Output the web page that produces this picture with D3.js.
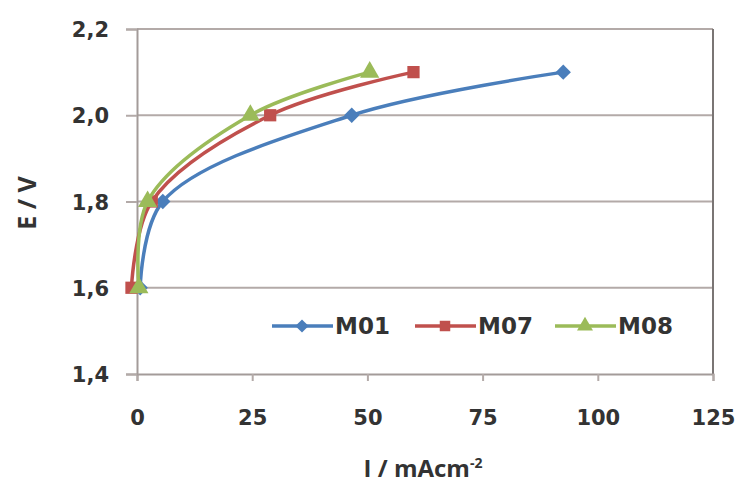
<!DOCTYPE html>
<html>
<head>
<meta charset="utf-8">
<script src="https://cdn.jsdelivr.net/npm/d3@7"></script>
<style>
  body { margin: 0; background: #fff; }
  svg { display: block; }
</style>
</head>
<body>
<script>
'use strict';

// series values (I in mA/cm2, E in V)
const seriesNames = ['M01', 'M07', 'M08'];
const m01Current = [0.7, 5.6, 46.6, 92.5];
const m01Voltage = [1.6, 1.8, 2.0, 2.1];
const m07Current = [-1.2, 3.2, 28.9, 60];
const m07Voltage = [1.6, 1.8, 2.0, 2.1];
const m08Current = [0.4, 2.3, 24.6, 50.5];
const m08Voltage = [1.6, 1.8, 2.0, 2.1];
const xTicks = [0, 25, 50, 75, 100, 125];
const yTicks = [1.4, 1.6, 1.8, 2.0, 2.2];

const width = 741;
const height = 486;
const colors = { M01: '#4a7ebb', M07: '#c0504d', M08: '#9bbb59' };
const symbols = { M01: d3.symbolDiamond2, M07: d3.symbolSquare, M08: d3.symbolTriangle };

// build table from arrays
const series = [
  { name: 'M01', x: m01Current, y: m01Voltage },
  { name: 'M07', x: m07Current, y: m07Voltage },
  { name: 'M08', x: m08Current, y: m08Voltage }
].map(s => ({ name: s.name, points: s.x.map((v, i) => ({ x: v, y: s.y[i] })) }));

const svg = d3.select('body').append('svg')
  .attr('width', width)
  .attr('height', height);

const xScale = d3.scaleLinear().domain([0, 125]).range([137, 713]);
const yScale = d3.scaleLinear().domain([1.4, 2.2]).range([374, 29]);

// gridlines
svg.append('g')
  .selectAll('line')
  .data(yTicks.slice(1))
  .enter()
  .append('line')
  .attr('x1', xScale(0))
  .attr('x2', xScale(125))
  .attr('y1', d => yScale(d))
  .attr('y2', d => yScale(d))
  .attr('stroke', '#b3aaa8')
  .attr('stroke-width', 2);

// right border of plot
svg.append('line')
  .attr('x1', xScale(125)).attr('x2', xScale(125))
  .attr('y1', yScale(2.2)).attr('y2', yScale(1.4))
  .attr('stroke', '#7a7574')
  .attr('stroke-width', 2);

// axes
const xAxis = d3.axisBottom(xScale).tickValues(xTicks).tickSize(7).tickPadding(29);
const gx = svg.append('g')
  .attr('transform', 'translate(0,' + yScale(1.4) + ')')
  .call(xAxis);

const yAxis = d3.axisLeft(yScale).tickValues(yTicks).tickSize(11).tickPadding(17)
  .tickFormat(d => d3.format('.1f')(d).replace('.', ','));
const gy = svg.append('g')
  .attr('transform', 'translate(' + xScale(0) + ',0)')
  .call(yAxis);

[gx, gy].forEach(g => {
  g.select('.domain').attr('stroke', '#a39b99').attr('stroke-width', 2);
  g.selectAll('.tick line').attr('stroke', '#b3aaa8').attr('stroke-width', 2);
  g.selectAll('.tick text')
    .attr('fill', '#333')
    .style('font-family', '"DejaVu Sans", sans-serif')
    .style('font-weight', 'bold')
    .style('font-size', '21px');
});
gy.selectAll('.tick text').attr('dy', '0.36em');

// lines
const line = d3.line()
  .x(d => xScale(d.x))
  .y(d => yScale(d.y))
  .curve(d3.curveCatmullRom.alpha(0.5));

const groups = svg.append('g')
  .selectAll('g')
  .data(series)
  .enter()
  .append('g');

groups.append('path')
  .attr('d', d => line(d.points))
  .attr('fill', 'none')
  .attr('stroke', d => colors[d.name])
  .attr('stroke-width', 3.5);

groups.selectAll('path.marker')
  .data(d => d.points.map(p => ({ name: d.name, x: p.x, y: p.y })))
  .enter()
  .append('path')
  .attr('class', 'marker')
  .attr('transform', d => 'translate(' + xScale(d.x) + ',' + yScale(d.y) + ')')
  .attr('d', d => d3.symbol().type(symbols[d.name]).size(d.name === 'M08' ? 160 : 150)())
  .attr('fill', d => colors[d.name]);

// legend
const legendX = [272, 415, 555];
const legend = svg.append('g')
  .selectAll('g')
  .data(seriesNames)
  .enter()
  .append('g')
  .attr('transform', (d, i) => 'translate(' + legendX[i] + ',326)');

legend.append('line')
  .attr('x1', 0).attr('x2', 61)
  .attr('stroke', d => colors[d])
  .attr('stroke-width', 3.5);

legend.append('path')
  .attr('transform', 'translate(30,0)')
  .attr('d', d => d3.symbol().type(symbols[d]).size(110)())
  .attr('fill', d => colors[d]);

legend.append('text')
  .attr('x', 63)
  .attr('dy', '0.36em')
  .attr('fill', '#333')
  .style('font-family', '"DejaVu Sans", sans-serif')
  .style('font-weight', 'bold')
  .style('font-size', '23px')
  .text(d => d);

// axis titles
svg.append('text')
  .attr('transform', 'translate(36,203)rotate(-90)')
  .attr('text-anchor', 'middle')
  .attr('fill', '#333')
  .style('font-family', '"Open Sans", sans-serif')
  .style('font-weight', 'bold')
  .style('font-size', '25px')
  .text('E / V');

const xTitle = svg.append('text')
  .attr('x', 423)
  .attr('y', 477)
  .attr('text-anchor', 'middle')
  .attr('fill', '#333')
  .style('font-family', '"Open Sans", sans-serif')
  .style('font-weight', 'bold')
  .style('font-size', '24px');
xTitle.append('tspan').text('I / mAcm');
xTitle.append('tspan')
  .attr('dy', -9)
  .style('font-size', '14px')
  .text('-2');
</script>
</body>
</html>
